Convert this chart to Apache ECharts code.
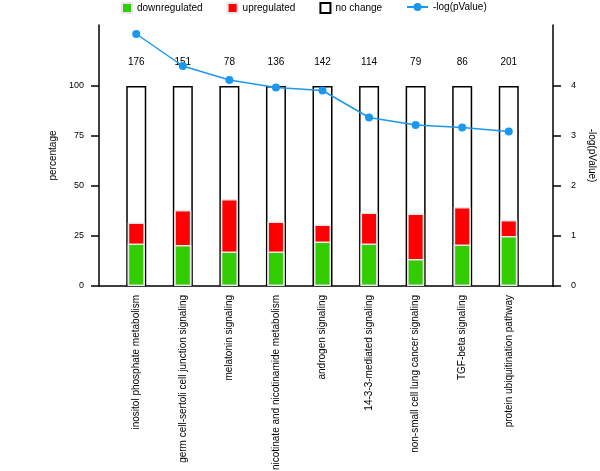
<!DOCTYPE html>
<html>
<head>
<meta charset="utf-8">
<script src="https://cdn.jsdelivr.net/npm/echarts@6/dist/echarts.min.js"></script>
<style>
html,body{margin:0;padding:0;background:#fff;}
#chart{width:600px;height:471px;}
</style>
</head>
<body>
<div id="chart"></div>
<script>
var categories = [
  'inositol phosphate metabolism',
  'germ cell-sertoli cell junction signaling',
  'melatonin signaling',
  'nicotinate and nicotinamide metabolism',
  'androgen signaling',
  '14-3-3-mediated signaling',
  'non-small cell lung cancer signaling',
  'TGF-beta signaling',
  'protein ubiquitination pathway'
];
var downregulated = [21.3, 20.5, 17.3, 17.3, 22.3, 21.3, 13.5, 20.8, 25.0];
var upregulated   = [10.4, 17.5, 26.2, 15.0, 8.4, 15.4, 22.8, 18.7, 8.0];
var noChange      = [100, 100, 100, 100, 100, 100, 100, 100, 100];
var geneCounts    = [176, 151, 78, 136, 142, 114, 79, 86, 201];
var negLogP       = [5.04, 4.40, 4.12, 3.97, 3.91, 3.37, 3.22, 3.17, 3.09];
var percentTicks  = [0, 25, 50, 75, 100];
var pTicks        = [0, 1, 2, 3, 4];

var FONT = 'Liberation Sans, Arial, sans-serif';
function pairs(arr){ return arr.map(function(v,i){ return [i, v]; }); }
var idx = categories.map(function(c,i){ return i; });
// upregulated segment sits on top of downregulated: its top edge is the sum
var upTop = upregulated.map(function(v,i){ return [i, downregulated[i] + v]; });

var chart = echarts.init(document.getElementById('chart'), null, {renderer:'canvas'});
var xCommon = {
  type: 'value', min: -0.8, max: 8.95,
  splitLine: {show:false}, axisTick: {show:false}
};
chart.setOption({
  animation: false,
  textStyle: {fontFamily: FONT},
  grid: {left: 99, right: 47, top: 25, bottom: 185, outerBoundsMode: 'none', containLabel: false},
  legend: [{
    left: 121, top: 2, padding: 0, itemWidth: 10, itemHeight: 10, itemGap: 24,
    icon: 'rect',
    textStyle: {fontSize: 10, color: '#000', fontFamily: FONT},
    data: ['downregulated', 'upregulated', 'no change']
  }, {
    left: 406, top: 2, padding: 0, itemWidth: 21, itemHeight: 10,
    textStyle: {fontSize: 10, color: '#000', fontFamily: FONT},
    data: ['-log(pValue)']
  }],
  xAxis: [
    Object.assign({}, xCommon, {
      axisLine: {show: true, onZero: false, lineStyle: {color: '#000', width: 1.5}},
      axisLabel: {
        show: true, rotate: 90, fontSize: 10, color: '#000', margin: 9,
        customValues: idx,
        formatter: function(v){ return categories[Math.round(v)] || ''; }
      }
    }),
    Object.assign({}, xCommon, {show: false})
  ],
  yAxis: [{
    type: 'value', min: 0, max: 130.5, position: 'left',
    name: 'percentage', nameLocation: 'middle', nameRotate: 90, nameGap: 33,
    nameTextStyle: {fontSize: 10, color: '#000', fontFamily: FONT},
    axisLine: {show: true, onZero: false, lineStyle: {color: '#000', width: 1.5}},
    axisTick: {show: true, length: 8, customValues: percentTicks, lineStyle: {color: '#000', width: 1.5}},
    axisLabel: {fontSize: 9, color: '#000', margin: 15, customValues: percentTicks},
    splitLine: {show: false}
  }, {
    type: 'value', min: 0, max: 5.22, position: 'right',
    name: '-log(pValue)', nameLocation: 'middle', nameRotate: -90, nameGap: 30,
    nameTextStyle: {fontSize: 10, color: '#000', fontFamily: FONT},
    axisLine: {show: true, onZero: false, lineStyle: {color: '#000', width: 1.5}},
    axisTick: {show: true, length: 8, customValues: pTicks, lineStyle: {color: '#000', width: 1.5}},
    axisLabel: {fontSize: 9, color: '#000', margin: 18, customValues: pTicks},
    splitLine: {show: false}
  }],
  series: [{
    name: 'no change', type: 'bar', xAxisIndex: 1, yAxisIndex: 0,
    barWidth: 20,
    data: pairs(noChange),
    itemStyle: {color: '#fff', borderColor: '#000', borderWidth: 1.5},
    label: {
      show: true, position: 'top', distance: 19, fontSize: 10, color: '#000',
      formatter: function(p){ return geneCounts[p.dataIndex]; }
    },
    z: 1
  }, {
    name: 'upregulated', type: 'bar', xAxisIndex: 0, yAxisIndex: 0,
    barWidth: 17,
    data: upTop,
    itemStyle: {color: '#ff0000', borderColor: '#e6e6e6', borderWidth: 1.5},
    z: 2
  }, {
    name: 'downregulated', type: 'bar', xAxisIndex: 0, yAxisIndex: 0,
    barWidth: 17, barGap: '-100%',
    data: pairs(downregulated),
    itemStyle: {color: '#33cc00', borderColor: '#e6e6e6', borderWidth: 1.5},
    z: 3
  }, {
    name: '-log(pValue)', type: 'line', xAxisIndex: 0, yAxisIndex: 1,
    data: pairs(negLogP),
    symbol: 'circle', symbolSize: 8,
    lineStyle: {color: '#1a98f0', width: 1.5},
    itemStyle: {color: '#1a98f0'},
    z: 5
  }]
});
</script>
</body>
</html>
